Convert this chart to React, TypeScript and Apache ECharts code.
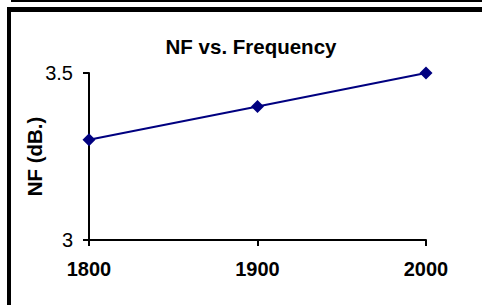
import React, { useEffect, useRef } from "react";
import * as echarts from "echarts";

const categories = ["1800", "1900", "2000"];
const nfValues = [3.3, 3.4, 3.5];
const yTicks = [3, 3.5];
const titleText = "NF vs. Frequency";
const yName = "NF (dB.)";

export default function App() {
  const ref = useRef<HTMLDivElement>(null);
  useEffect(() => {
    if (!ref.current) return;
    const chart = echarts.init(ref.current, undefined, { renderer: "svg" });
    const font = "'Liberation Sans', Arial, sans-serif";
    chart.setOption({
      animation: false,
      backgroundColor: "#ffffff",
      title: {
        text: titleText,
        left: 246,
        top: 31,
        textAlign: "center",
        textStyle: { fontFamily: font, fontWeight: "bold", fontSize: 20.5, color: "#000" },
      },
      grid: { left: 89, right: 56, top: 73, bottom: 65, containLabel: false },
      xAxis: {
        type: "category",
        data: categories,
        boundaryGap: false,
        axisLine: { lineStyle: { color: "#000", width: 2 } },
        axisTick: { show: true, alignWithLabel: true, length: 6, lineStyle: { color: "#000", width: 2 } },
        axisLabel: { fontFamily: font, fontWeight: "bold", fontSize: 20, color: "#000", margin: 19 },
        splitLine: { show: false },
      },
      yAxis: {
        type: "value",
        min: yTicks[0],
        max: yTicks[yTicks.length - 1],
        interval: 0.5,
        name: yName,
        nameLocation: "middle",
        nameRotate: 90,
        nameGap: 44,
        nameMoveOverlap: false,
        nameTextStyle: { fontFamily: font, fontWeight: "bold", fontSize: 20.5, color: "#000" },
        axisLine: { show: true, lineStyle: { color: "#000", width: 2 } },
        axisTick: { show: true, length: 6, lineStyle: { color: "#000", width: 2 } },
        axisLabel: { fontFamily: font, fontSize: 20, color: "#000", margin: 16, formatter: (v: number) => String(v) },
        splitLine: { show: false },
      },
      series: [
        {
          type: "line",
          data: nfValues,
          symbol: "diamond",
          symbolSize: 13,
          lineStyle: { color: "#000080", width: 2 },
          itemStyle: { color: "#000080" },
        },
      ],
      graphic: [
        { type: "rect", shape: { x: 11, y: 0, width: 471, height: 2 }, style: { fill: "#000" }, silent: true },
        { type: "rect", shape: { x: 7, y: 7, width: 475, height: 5 }, style: { fill: "#000" }, silent: true },
        { type: "rect", shape: { x: 7, y: 7, width: 4, height: 298 }, style: { fill: "#000" }, silent: true },
      ],
    });
    return () => chart.dispose();
  }, []);
  return (
    <div
      ref={ref}
      style={{ position: "fixed", left: 0, top: 0, width: 482, height: 305, background: "#fff" }}
    />
  );
}
